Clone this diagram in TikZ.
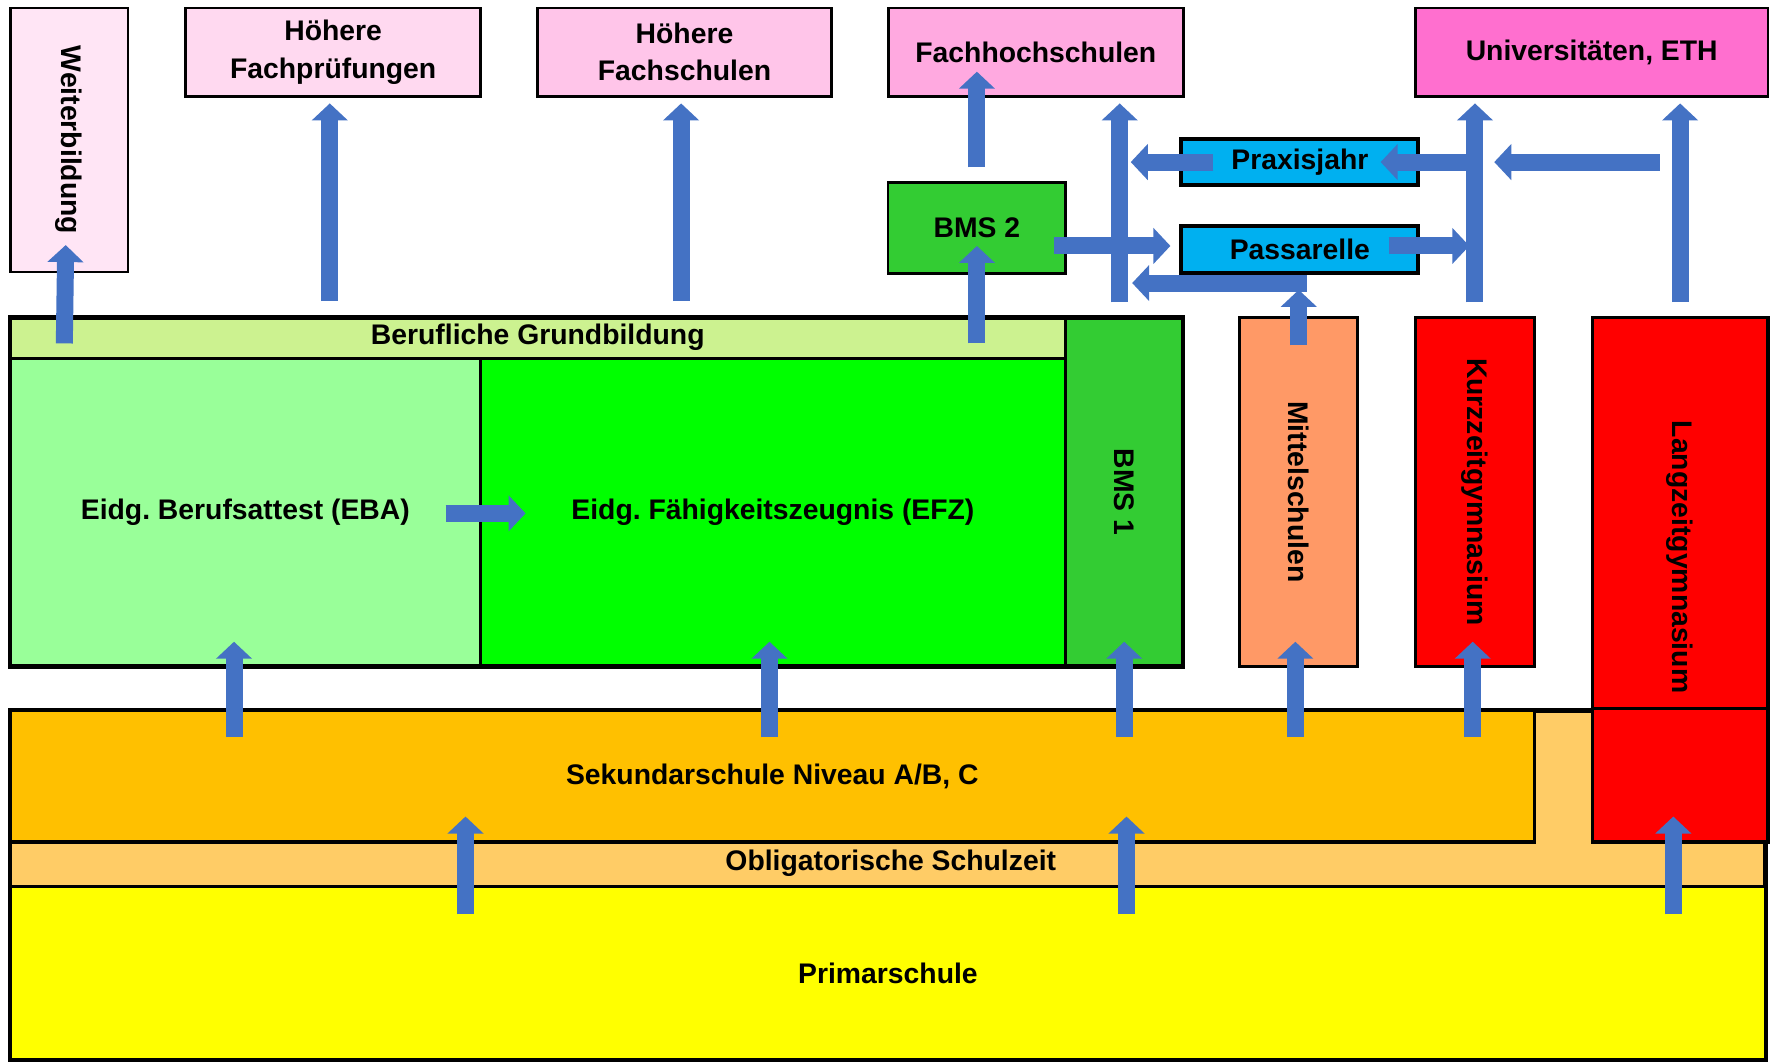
\documentclass[tikz,border=0pt]{standalone}
\usepackage{fontspec}
\setmainfont{Liberation Sans}
\frenchspacing
\usetikzlibrary{arrows.meta}
\definecolor{arrowblue}{HTML}{4472C4}
\definecolor{pinkA}{HTML}{FFE5F5}
\definecolor{pinkB}{HTML}{FFD9F0}
\definecolor{pinkC}{HTML}{FFC5E9}
\definecolor{pinkD}{HTML}{FFA9E0}
\definecolor{pinkE}{HTML}{FF6FCF}
\definecolor{cyanbox}{HTML}{00B0F0}
\definecolor{bmsgreen}{HTML}{33CC33}
\definecolor{stripgreen}{HTML}{CCF290}
\definecolor{ebagreen}{HTML}{99FF99}
\definecolor{efzgreen}{HTML}{00FF00}
\definecolor{mittelorange}{HTML}{FF9966}
\definecolor{sekorange}{HTML}{FFC000}
\definecolor{oblorange}{HTML}{FFCC66}
\definecolor{primyellow}{HTML}{FFFF00}
\begin{document}
\begin{tikzpicture}[x=1pt, y=-1pt,
    lbl/.style={inner sep=0pt, align=center, font=\fontsize{25}{33}\selectfont\bfseries},
    box/.style={lbl, draw, line width=2.5pt},
    frame/.style={draw, line width=4pt, inner sep=0pt},
    arr/.style={draw=arrowblue, line width=15pt, -{Triangle[width=31pt,length=15pt]}}]
  \useasboundingbox (0,0) rectangle (1568,937);

  % oben
  \node[box, fill=pinkA, minimum width=104pt, minimum height=233pt] (weiter) at (61,123.5) {\rotatebox{-90}{Weiterbildung}};
  \node[box, fill=pinkB, minimum width=260pt, minimum height=78pt] (hfp) at (294,46) {Höhere\\Fachprüfungen};
  \node[box, fill=pinkC, minimum width=260pt, minimum height=78pt] (hfs) at (604,46) {Höhere\\Fachschulen};
  \node[box, fill=pinkD, minimum width=260pt, minimum height=78pt] (fh) at (914,46) {Fachhochschulen};
  \node[box, fill=pinkE, minimum width=311pt, minimum height=78pt] (uni) at (1404.5,46) {Universitäten, ETH};
  \node[box, fill=cyanbox, line width=3.5pt, minimum width=209pt, minimum height=41pt] (praxis) at (1147,143) {Praxisjahr};
  \node[box, fill=cyanbox, line width=3.5pt, minimum width=209pt, minimum height=41pt] (passa) at (1147,220) {Passarelle};
  \node[box, fill=bmsgreen, minimum width=157pt, minimum height=80pt] (bms2) at (862,201) {BMS 2};

  % Sekundarstufe II
  \node[box, fill=stripgreen, minimum width=931pt, minimum height=36pt] (strip) at (474.5,298) {Berufliche Grundbildung};
  \node[box, fill=ebagreen, minimum width=415pt, minimum height=272pt] (eba) at (216.5,452) {Eidg. Berufsattest (EBA)};
  \node[box, fill=efzgreen, minimum width=516pt, minimum height=272pt] (efz) at (682,452) {Eidg. Fähigkeitszeugnis (EFZ)};
  \node[box, fill=bmsgreen, minimum width=104pt, minimum height=308pt] (bms1) at (992,434) {\rotatebox{-90}{BMS 1}};
  \node[frame, minimum width=1035pt, minimum height=308pt] (berufl) at (526.5,434) {};
  \node[box, fill=mittelorange, minimum width=104pt, minimum height=308pt] (mittel) at (1146,434) {\rotatebox{-90}{Mittelschulen}};
  \node[box, fill=red, minimum width=105pt, minimum height=308pt] (kurz) at (1301.5,434) {\rotatebox{-90}{Kurzzeitgymnasium}};

  % obligatorische Schulzeit
  \node[frame, fill=oblorange, minimum width=1549pt, minimum height=308pt] (obl) at (783.5,781) {};
  \node[box, line width=3pt, fill=sekorange, minimum width=1345pt, minimum height=116pt] (sek) at (681.5,685) {Sekundarschule Niveau A/B, C};
  \node[box, line width=3pt, fill=primyellow, minimum width=1549pt, minimum height=153pt] (primar) at (783.5,858.5) {Primarschule};
  \node[lbl] (obltext) at (786,762) {Obligatorische Schulzeit};
  \node[box, line width=3pt, fill=red, minimum width=155pt, minimum height=463pt] (lang) at (1482.5,511.5) {};
  \node[lbl] (langtxt) at ([yshift=20pt]lang.center) {\rotatebox{-90}{Langzeitgymnasium}};
  \draw[line width=3pt] (lang.west |- obl.north) -- (lang.east |- obl.north);

  % Pfeile
  \draw[arr] ([xshift=49pt,yshift=-5pt]strip.west) -- ([xshift=-3pt,yshift=25pt]weiter.south);
  \foreach \n in {hfp,hfs}{
    \draw[arr] ([xshift=-3pt,yshift=13pt]strip.north -| \n) -- ([xshift=-3pt,yshift=-5pt]\n.south);
  }
  \draw[arr] ([yshift=12pt]bms2.north) -- ([yshift=23pt]fh.south -| bms2);
  \draw[arr] ([yshift=-5pt]strip.center -| bms2) -- ([yshift=-16pt]bms2.center);
  \draw[arr] ([xshift=-4pt,yshift=12pt]bms1.north) -- ([xshift=-4pt,yshift=-5pt]fh.south -| bms1);
  \draw[arr] ([xshift=30pt]praxis.west) -- ([xshift=-43pt]praxis.west);
  \draw[arr] ([xshift=40pt]praxis.east) -- ([xshift=-35pt]praxis.east);
  \draw[arr] ([xshift=-18pt]praxis.center -| lang) -- ([xshift=17pt]praxis.center -| kurz);
  \draw[arr] ([xshift=-12pt,yshift=3pt]bms2.east |- passa.center) -- ([xshift=-8pt,yshift=3pt]passa.west);
  \draw[arr] ([xshift=-28pt,yshift=3pt]passa.east) -- ([xshift=-5pt,yshift=3pt]passa.center -| kurz);
  \draw[arr] ([yshift=-26pt]mittel.north) -- ([yshift=23pt]mittel.north);
  \draw[arr] ([xshift=7pt,yshift=29pt]mittel.north) -- ([xshift=7pt,yshift=29pt]bms1.north);
  \draw[arr] ([yshift=12pt]kurz.north) -- ([yshift=-5pt]uni.south -| kurz);
  \draw[arr] ([yshift=12pt]lang.north) -- ([yshift=-5pt]uni.south -| lang);
  \draw[arr] ([xshift=-32pt,yshift=-1pt]eba.east) -- ([xshift=41pt,yshift=-1pt]efz.west);
  \foreach \n/\dx in {eba/-10,efz/-3,bms1/0,mittel/-3,kurz/-2}{
    \draw[arr] ([xshift=\dx pt,yshift=-25pt]sek.north -| \n) -- ([xshift=\dx pt,yshift=23pt]\n.south);
  }
  \foreach \n/\dx in {efz.west/-12,bms1/2,lang/-6}{
    \draw[arr] ([xshift=\dx pt,yshift=-26pt]primar.north -| \n) -- ([xshift=\dx pt,yshift=24pt]sek.south -| \n);
  }
\end{tikzpicture}
\end{document}
